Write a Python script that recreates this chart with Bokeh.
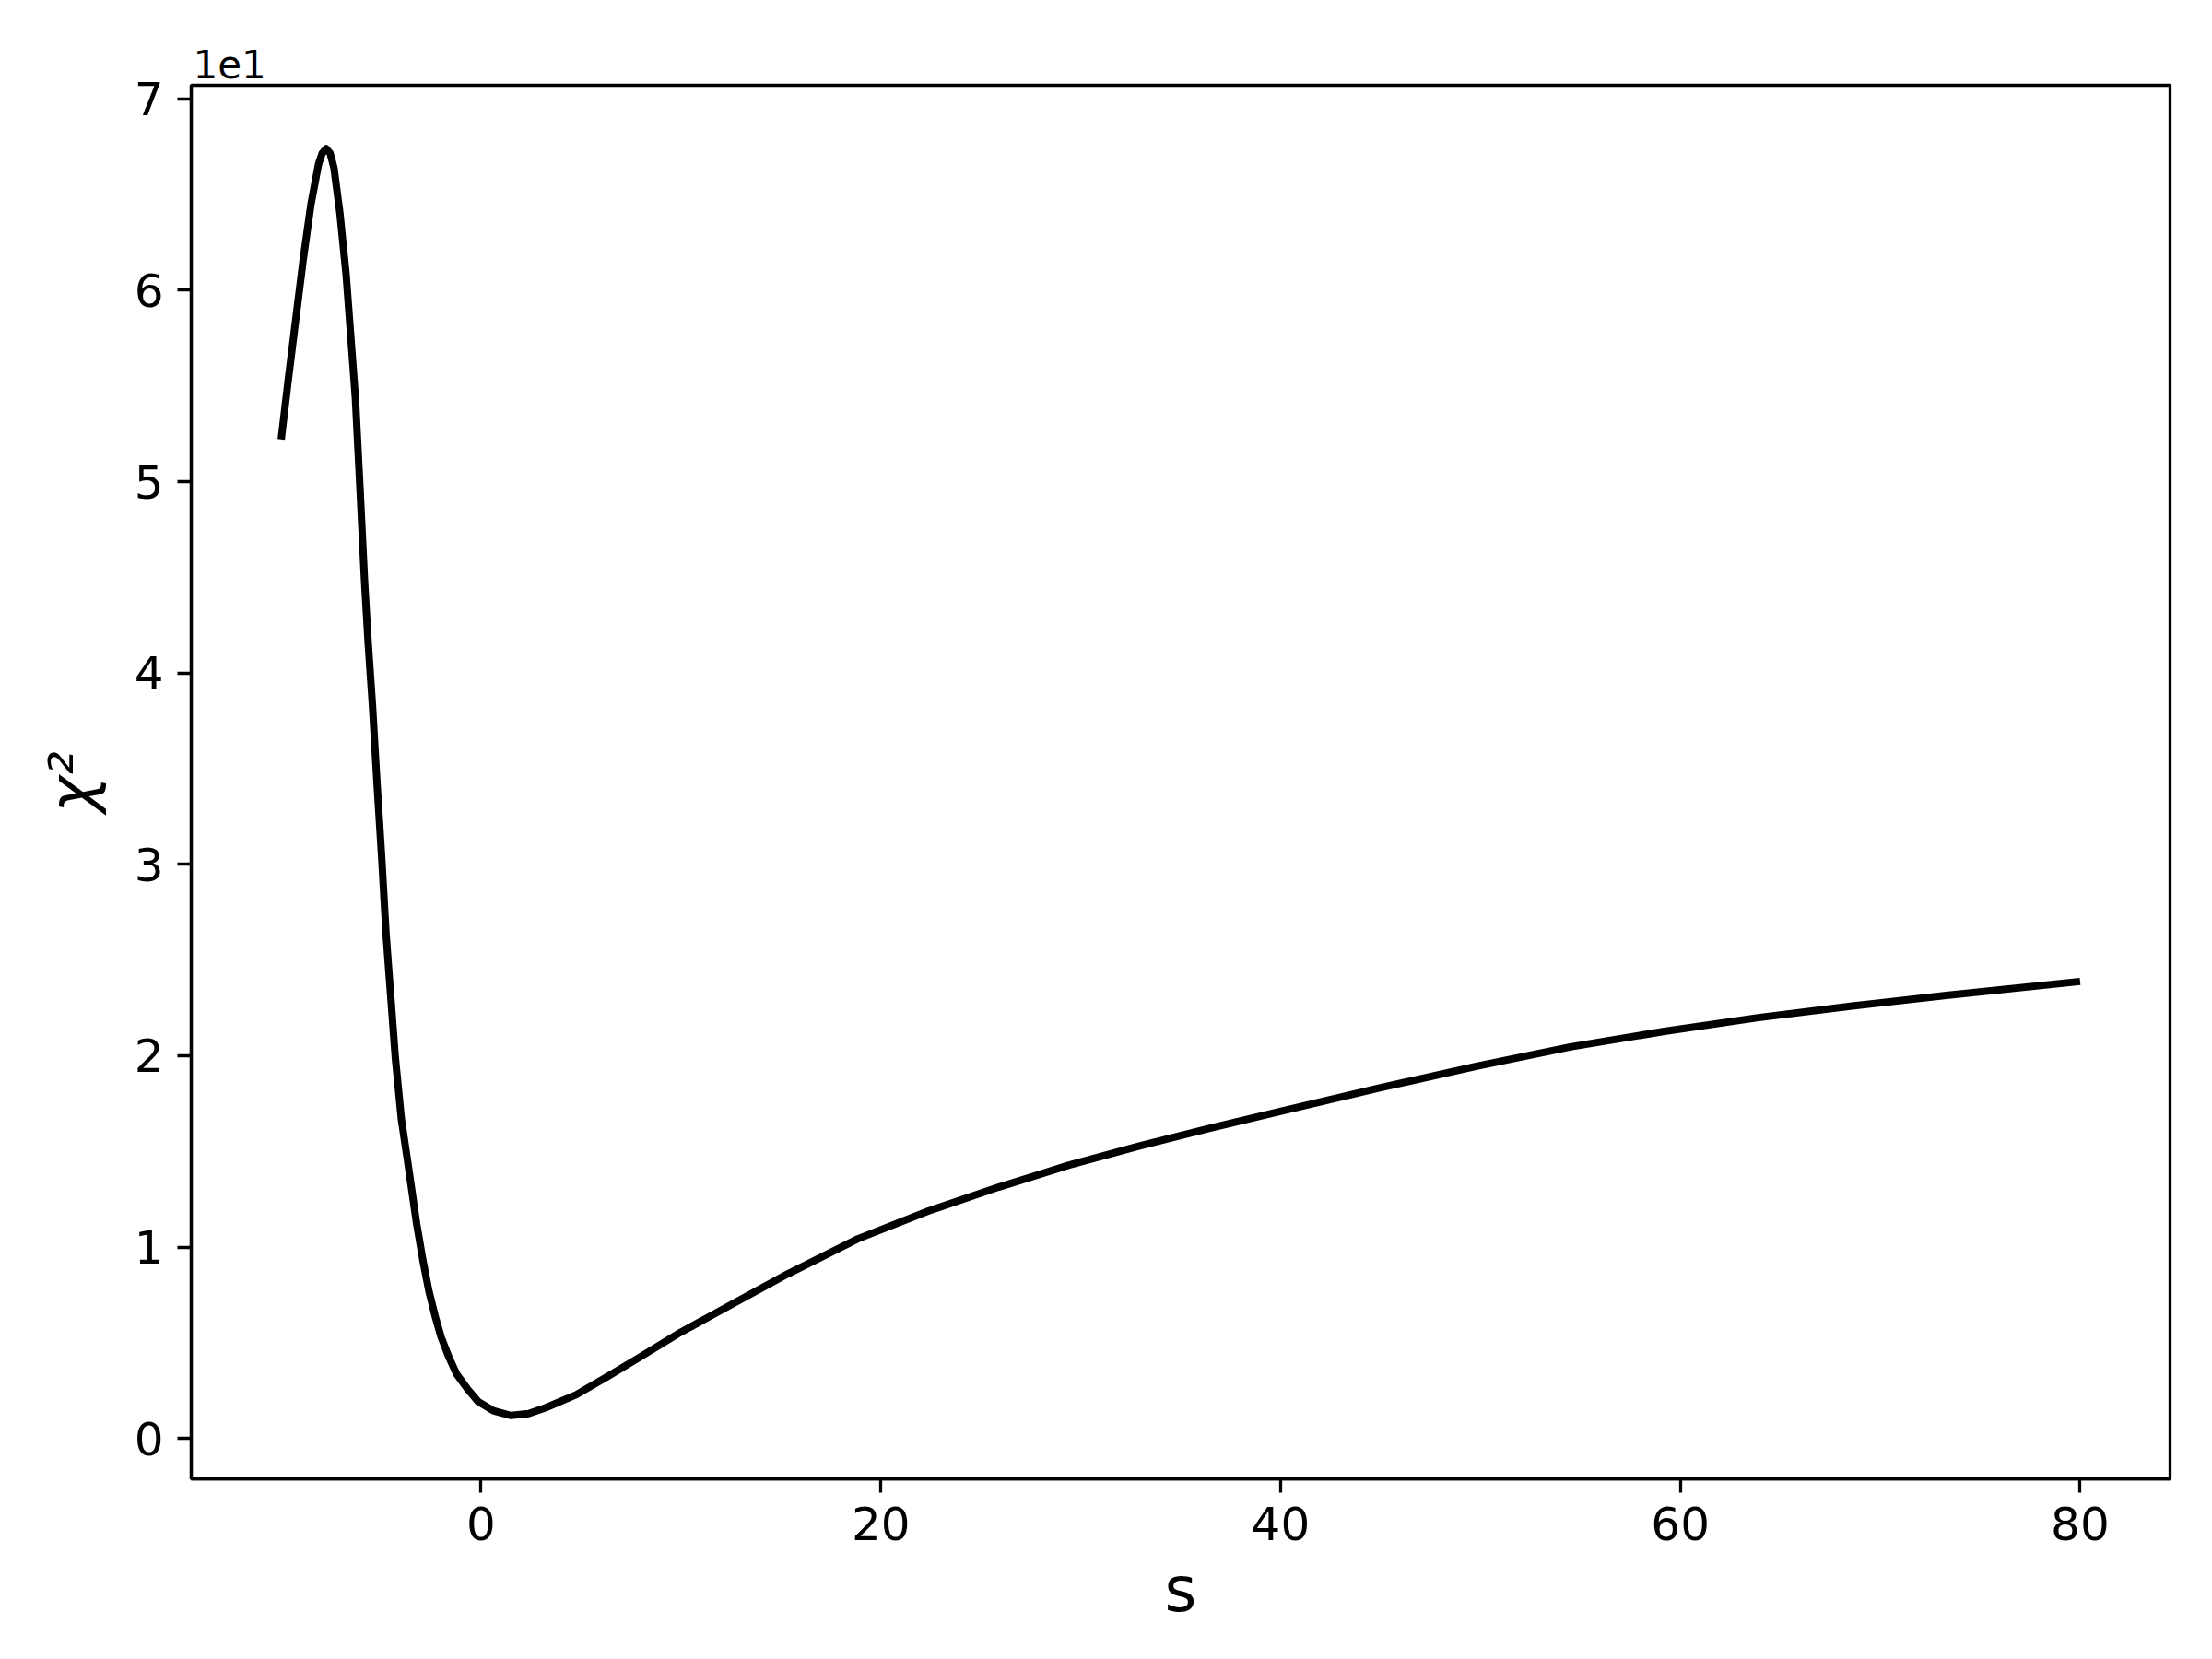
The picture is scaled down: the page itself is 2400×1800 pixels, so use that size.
from bokeh.plotting import figure
from bokeh.models import Range1d, FixedTicker, ColumnDataSource
from bokeh.embed import file_html
from bokeh.resources import INLINE

# data
s_vals = [-10.0, -9.66, -9.28, -8.9, -8.51, -8.13, -7.95, -7.75, -7.55, -7.36,
          -7.06, -6.75, -6.52, -6.29, -6.06, -5.83, -5.65, -5.44, -5.21, -4.98,
          -4.75, -4.52, -4.29, -3.99, -3.65, -3.22, -2.91, -2.61, -2.30, -2.0,
          -1.61, -1.23, -0.69, -0.15, 0.61, 1.5, 2.38, 3.22, 4.75, 6.29,
          7.82, 9.97, 11.8, 15.33, 18.85, 22.37, 25.89, 29.42, 32.94, 36.46,
          39.98, 45.1, 49.8, 54.5, 59.2, 63.9, 68.6, 73.3, 80.0]
chi2_vals = [52.2, 55.2, 58.4, 61.6, 64.5, 66.6, 67.15, 67.4, 67.15, 66.4,
             64.0, 60.8, 57.6, 54.4, 49.7, 44.8, 41.6, 38.4, 34.3, 30.5,
             26.3, 23.1, 19.9, 16.7, 14.3, 11.2, 9.3, 7.7, 6.4, 5.3,
             4.25, 3.37, 2.6, 1.93, 1.45, 1.2, 1.3, 1.60, 2.28, 3.21,
             4.17, 5.54, 6.58, 8.59, 10.43, 11.88, 13.13, 14.28, 15.28, 16.21,
             17.09, 18.35, 19.45, 20.46, 21.27, 21.99, 22.6, 23.15, 23.88]
x_ticks = [0, 20, 40, 60, 80]
y_ticks = [0, 10, 20, 30, 40, 50, 60, 70]
y_tick_labels = ["0", "1", "2", "3", "4", "5", "6", "7"]
x_label = "s"
y_label = "χ²"
offset_text = "1e1"

xmin, xmax = min(s_vals), max(s_vals)
ymin, ymax = min(chi2_vals), max(chi2_vals)
xm = 0.05 * (xmax - xmin)
ym = 0.05 * (ymax - ymin)

FONT = "DejaVu Sans"

p = figure(
    frame_width=2147, frame_height=1512,
    min_border_left=207, min_border_top=92, min_border_right=30, min_border_bottom=150,
    x_range=Range1d(xmin - xm, xmax + xm),
    y_range=Range1d(ymin - ym, ymax + ym),
    output_backend="svg", toolbar_location=None,
    title=offset_text,
)
p.background_fill_color = "white"
p.border_fill_color = "white"
p.grid.visible = False
p.outline_line_color = "black"
p.outline_line_width = 3.3
p.outline_line_alpha = 1.0

p.title.align = "left"
p.title.text_font = FONT
p.title.text_font_size = "42px"
p.title.text_font_style = "normal"
p.title.text_color = "black"
p.title.offset = 2
p.title.standoff = 16

src = ColumnDataSource(dict(s=s_vals, chi2=chi2_vals))
p.line("s", "chi2", source=src, line_color="black", line_width=8,
       line_join="round", line_cap="butt")

for ax in (p.xaxis[0], p.yaxis[0]):
    ax.axis_line_width = 3.3
    ax.axis_line_color = "black"
    ax.major_tick_line_width = 3.3
    ax.major_tick_line_color = "black"
    ax.major_tick_out = 15
    ax.major_tick_in = 0
    ax.minor_tick_line_color = None
    ax.major_label_text_font = FONT
    ax.major_label_text_font_size = "50px"
    ax.major_label_text_color = "black"
    ax.major_label_standoff = 15
    ax.axis_label_text_font = FONT
    ax.axis_label_text_font_size = "67px"
    ax.axis_label_text_font_style = "normal"
    ax.axis_label_text_color = "black"

p.xaxis[0].ticker = FixedTicker(ticks=x_ticks)
p.yaxis[0].ticker = FixedTicker(ticks=y_ticks)
p.yaxis[0].major_label_overrides = {t: l for t, l in zip(y_ticks, y_tick_labels)}
p.xaxis[0].axis_label = x_label
p.yaxis[0].axis_label = y_label
p.yaxis[0].axis_label_text_font_style = "italic"
p.xaxis[0].axis_label_standoff = 12
p.yaxis[0].axis_label_standoff = 26

open("out.html", "w").write(file_html(p, INLINE))
